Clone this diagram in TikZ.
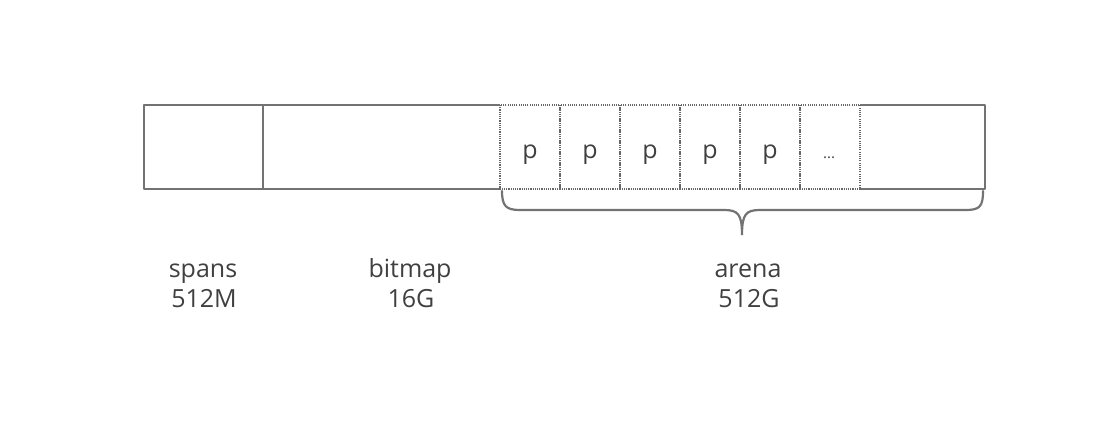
\documentclass[tikz,border=0pt]{standalone}
\usepackage{fontspec}
\setmainfont{Open Sans}
\begin{document}
\begin{tikzpicture}[x=1pt,y=-1pt,
  solidline/.style={draw=black!55,line width=2.2pt,line join=round},
  dotline/.style={draw=black!60,line width=1.1pt,dash pattern=on 1.1pt off 1.1pt},
  lbl/.style={text=black!75,font=\fontsize{25}{28}\selectfont,anchor=base,inner sep=0pt}]
\useasboundingbox (0,0) rectangle (1094,434);
% outer frame
\draw[solidline] (500,105) -- (144,105) -- (144,189) -- (500,189);
\draw[solidline] (860,105) -- (985,105) -- (985,189) -- (860,189);
\draw[solidline] (263,105) -- (263,189);
% cells
\foreach \i/\t in {0/p,1/p,2/p,3/p,4/p} {
  \draw[dotline] (500+60*\i,105) rectangle (560+60*\i,189);
  \node[lbl] (c\i) at (530+60*\i,158) {\t};
}
\draw[dotline] (800,105) rectangle (860,189);
\node[lbl,font=\fontsize{15}{17}\selectfont] (c5) at (829,158) {...};
% brace
\draw[draw=black!55,line width=2.2pt,line cap=round]
  (502,191) .. controls (502,206) and (506,210) .. (520,210)
  -- (724,210) .. controls (738,210) and (742,214) .. (742,235)
  .. controls (742,214) and (746,210) .. (760,210)
  -- (966,210) .. controls (980,210) and (983,206) .. (983,191);
% labels
\node[lbl] (spans) at (203,277) {spans};
\node[lbl] (spansz) at (204,307) {512M};
\node[lbl] (bitmap) at (410,277) {bitmap};
\node[lbl] (bitmapsz) at (411,307) {16G};
\node[lbl] (arena) at (748,277) {arena};
\node[lbl] (arenasz) at (749,307) {512G};
\end{tikzpicture}
\end{document}
